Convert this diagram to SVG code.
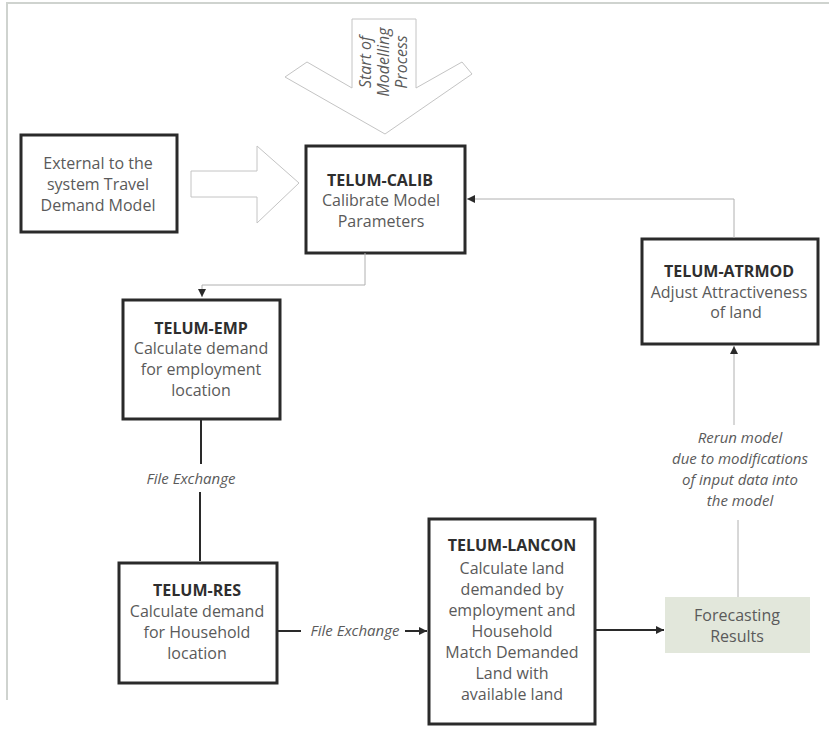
<svg xmlns="http://www.w3.org/2000/svg" width="829" height="740" viewBox="0 0 829 740">
<defs>
<style>
text{font-family:"Open Sans","Noto Sans","DejaVu Sans",sans-serif;font-size:16px;fill:#5a5a5a;text-anchor:middle}
.t{font-weight:bold;fill:#2e2e2e}
.i{font-style:italic;font-size:15px}
.box{fill:#fff;stroke:#2a2a2a;stroke-width:3}
.thin{fill:none;stroke:#b0b0b0;stroke-width:1}
.thick{fill:none;stroke:#2a2a2a;stroke-width:2}
.outline{fill:#fff;stroke:#c4c4c4;stroke-width:1}
</style>
<marker id="ah" markerWidth="10" markerHeight="10" refX="9" refY="5" orient="auto" markerUnits="userSpaceOnUse">
<path d="M1,1 L9,5 L1,9 Z" fill="#2a2a2a"/>
</marker>
</defs>
<rect width="829" height="740" fill="#fff"/>
<path d="M7,700 L7,3 L829,3" fill="none" stroke="#cfd3cf" stroke-width="2"/>

<g id="start">
<path class="outline" d="M285,77 L307,62 L352,88 L352,19 L416,19 L416,88 L462,62 L472,74 L385,134 Z"/>
<text class="i" transform="translate(371,62) rotate(-90)" style="font-size:16px">Start of</text>
<text class="i" transform="translate(389,62) rotate(-90)" style="font-size:16px">Modelling</text>
<text class="i" transform="translate(407,62) rotate(-90)" style="font-size:16px">Process</text>
</g>

<g id="external">
<rect class="box" x="21" y="135" width="156" height="97"/>
<text x="98" y="169">External to the</text>
<text x="98" y="190">system  Travel</text>
<text x="98" y="211">Demand Model</text>
</g>

<g id="bigarrow">
<path class="outline" d="M191,171 L257,171 L257,146 L299,183 L257,223 L257,197 L191,197 Z"/>
</g>

<g id="calib">
<rect class="box" x="306" y="146" width="159" height="107"/>
<text class="t" x="380" y="186">TELUM-CALIB</text>
<text x="381" y="206">Calibrate Model</text>
<text x="381" y="227">Parameters</text>
</g>

<g id="emp">
<rect class="box" x="123" y="300" width="157" height="119"/>
<text class="t" x="201" y="334">TELUM-EMP</text>
<text x="201" y="354">Calculate demand</text>
<text x="201" y="375">for employment</text>
<text x="201" y="396">location</text>
</g>

<g id="res">
<rect class="box" x="119" y="563" width="158" height="120"/>
<text class="t" x="197" y="596">TELUM-RES</text>
<text x="197" y="617">Calculate demand</text>
<text x="197" y="638">for Household</text>
<text x="197" y="659">location</text>
</g>

<g id="lancon">
<rect class="box" x="429" y="519" width="166" height="205"/>
<text class="t" x="512" y="551">TELUM-LANCON</text>
<text x="512" y="574">Calculate land</text>
<text x="512" y="595">demanded by</text>
<text x="512" y="616">employment and</text>
<text x="512" y="637">Household</text>
<text x="512" y="658">Match Demanded</text>
<text x="512" y="679">Land with</text>
<text x="512" y="700">available land</text>
</g>

<g id="forecast">
<rect x="665" y="597" width="145" height="56" fill="#e2e7db"/>
<text x="737" y="621">Forecasting</text>
<text x="737" y="642">Results</text>
</g>

<g id="atrmod">
<rect class="box" x="642" y="239" width="176" height="105"/>
<text class="t" x="729" y="277">TELUM-ATRMOD</text>
<text x="729" y="298">Adjust Attractiveness</text>
<text x="736" y="318">of land</text>
</g>

<g id="connectors">
<path class="thin" d="M365,253 L365,285 L202,285 L202,297" marker-end="url(#ah)"/>
<path class="thick" d="M201,420 L201,464"/>
<path class="thick" d="M200,492 L200,561"/>
<text class="i" x="191" y="484">File Exchange</text>
<path class="thick" d="M278,631 L301,631"/>
<text class="i" x="355" y="636">File Exchange</text>
<path class="thick" d="M405,631 L427,631" marker-end="url(#ah)"/>
<path class="thick" d="M596,630 L664,630" marker-end="url(#ah)"/>
<path class="thin" d="M738,597 L738,520"/>
<text class="i" x="740" y="443">Rerun model</text>
<text class="i" x="740" y="464">due to modifications</text>
<text class="i" x="740" y="485">of input data  into</text>
<text class="i" x="740" y="506">the model</text>
<path class="thin" d="M734,425 L734,346" marker-end="url(#ah)"/>
<path class="thin" d="M734,238 L734,199 L467,199" marker-end="url(#ah)"/>
</g>
</svg>
